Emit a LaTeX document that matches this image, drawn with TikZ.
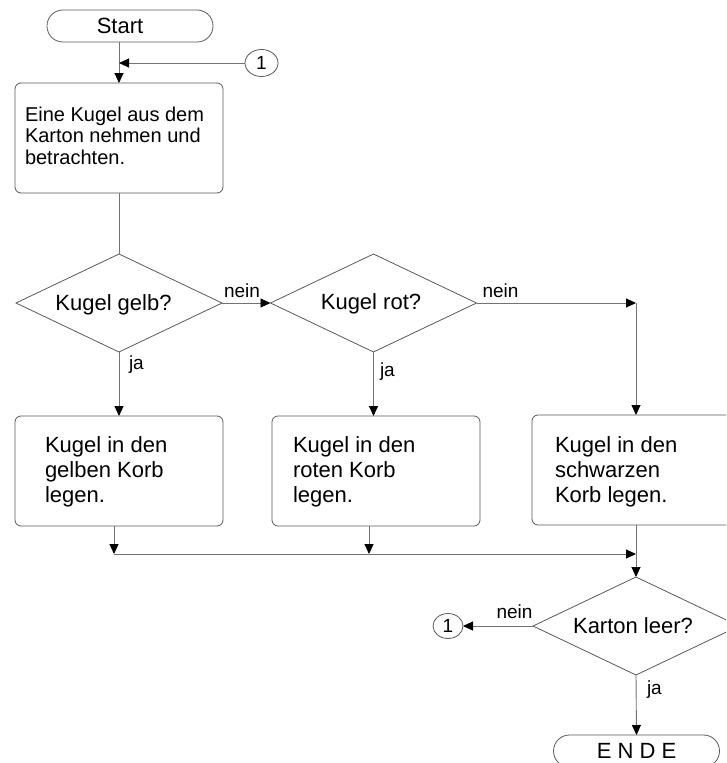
\documentclass[tikz,border=0pt]{standalone}
\usepackage{fontspec}
\setmainfont{Liberation Sans}
\usetikzlibrary{shapes.geometric,arrows.meta}
\definecolor{edgecol}{gray}{0.45}
\definecolor{framecol}{gray}{0.35}

\begin{document}
\begin{tikzpicture}[x=1pt,y=-1pt,
  every node/.style={inner sep=0pt, outer sep=0pt},
  terminal/.style={draw=framecol, line width=0.8pt, rounded corners=15.9pt,
    minimum width=166pt, minimum height=32pt, font=\fontsize{22}{25}\selectfont},
  proc/.style={draw=framecol, line width=0.8pt, rounded corners=6pt,
    minimum width=208pt, minimum height=110pt},
  decision/.style={diamond, draw=framecol, line width=0.8pt,
    minimum width=206pt, minimum height=98pt},
  connector/.style={ellipse, draw=framecol, line width=0.8pt,
    font=\fontsize{19}{19}\selectfont},
  % multi-line text: the base anchor sits on the last line
  body/.style={align=left, anchor=base west, font=\fontsize{22}{25}\selectfont},
  question/.style={anchor=base, font=\fontsize{22}{25}\selectfont},
  answer/.style={font=\fontsize{19}{19}\selectfont},
  flow/.style={draw=edgecol, line width=0.9pt},
  arr/.style={flow, -{Triangle[length=10pt,width=9pt,color=black]}}]

  % canvas
  \path[use as bounding box] (0,0) rectangle (726,763);
  \clip (0,0) rectangle (726,763);

  % shapes
  \node[terminal] (start) at (130,26) {\hspace*{-20pt}Start};
  \node[connector, minimum width=33pt, minimum height=27pt] (c1) at (261.5,63) {1};
  \node[proc] (box1) at (119,138) {};
  \node[decision] (d1) at (119,303) {};
  \node[decision] (d2) at (373.5,303) {};
  \node[proc] (boxA) at (119,471) {};
  \node[proc] (boxB) at (376,471) {};
  \node[proc] (boxC) at (636,470) {};
  \node[decision] (d3) at (636,626) {};
  \node[connector, minimum width=30pt, minimum height=25pt] (c2) at (448,626) {1};
  \node[terminal] (ende) at (636.5,751) {E N D E};

  % texts inside the shapes
  \node[body, font=\fontsize{20}{21.7}\selectfont] (t1) at (25,164.4)
    {Eine Kugel aus dem\\Karton nehmen und\\betrachten.};
  \node[body] (tA) at (45,502) {Kugel in den\\gelben Korb\\legen.};
  \node[body] (tB) at (293,502) {Kugel in den\\roten Korb\\legen.};
  \node[body] (tC) at (555,502) {Kugel in den\\schwarzen\\Korb legen.};
  \node[question] (q1) at (113.5,310) {Kugel gelb?};
  \node[question] (q2) at (371,309) {Kugel rot?};
  \node[question] (q3) at (633,633) {Karton leer?};

  % junction points
  \coordinate (j1) at (119,63);
  \coordinate (k) at (636,303);
  \coordinate (mA) at (114,554);
  \coordinate (mB) at (369,554);
  \coordinate (mC) at (636,554);

  % connectors
  \draw[arr] (start.south -| box1.north) -- (box1.north);
  \draw[arr] (c1.west) -- (j1);
  \draw[flow] (box1.south) -- (d1.north);
  \draw[arr] (d1.east) -- (d2.west);
  \draw[arr] (d1.south) -- (boxA.north);
  \draw[arr] (d2.south) -- (d2.south |- boxB.north);
  \draw[arr] (d2.east) -- (k);
  \draw[arr] (k) -- (boxC.north);
  \draw[arr] (boxA.south -| mA) -- (mA);
  \draw[arr] (boxB.south -| mB) -- (mB);
  \draw[arr] (mA) -- (mC);
  \draw[arr] (boxC.south) -- (d3.north);
  \draw[arr] (d3.west) -- (c2.east);
  \draw[arr] (d3.south) -- (ende.north);

  % branch labels
  \node[answer, anchor=base] (n1) at (242,297) {nein};
  \node[answer, anchor=base] (n2) at (500.5,297) {nein};
  \node[answer, anchor=base] (n3) at (514.5,618) {nein};
  \node[answer, anchor=base west] (y1) at (129,369) {ja};
  \node[answer, anchor=base west] (y2) at (380,376) {ja};
  \node[answer, anchor=base west] (y3) at (647,694) {ja};
\end{tikzpicture}
\end{document}
